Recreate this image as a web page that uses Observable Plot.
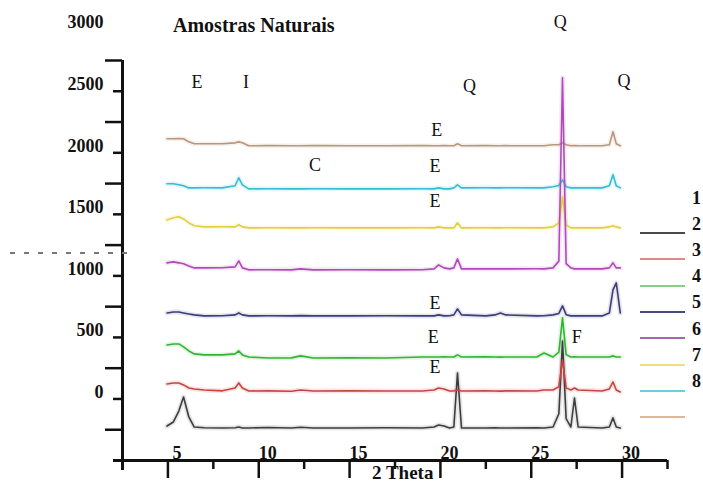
<!DOCTYPE html>
<html>
<head>
<meta charset="utf-8">
<script src="https://cdn.jsdelivr.net/npm/d3@7"></script>
<script src="https://cdn.jsdelivr.net/npm/@observablehq/plot@0.6"></script>
<style>
  html, body { margin: 0; padding: 0; background: #fff; }
  #wrap { position: relative; width: 703px; height: 483px; overflow: hidden; font-family: "Liberation Serif", "DejaVu Serif", serif; }
  #wrap svg { position: absolute; left: 0; top: 0; }
  .ov { position: absolute; white-space: nowrap; color: #111; }
</style>
</head>
<body>
<div id="wrap"></div>
<script>
// ---------- data ----------
const samples = ["1", "2", "3", "4", "5", "6", "7", "8"];
const twoTheta = [4.95, 5.3, 5.6, 5.86, 6.15, 6.45, 7.0, 8.0, 8.7, 8.9, 9.1, 9.45, 10.5, 11.8, 12.3, 13.0, 15.0, 17.0, 19.0, 19.65, 19.9, 20.2, 20.5, 20.74, 20.94, 21.16, 22.5, 23.0, 23.3, 23.6, 25.3, 25.7, 26.2, 26.52, 26.72, 26.92, 27.18, 27.38, 27.58, 28.9, 29.3, 29.5, 29.68, 29.9];
const sample1 = [-220, -187, -98, 16, -146, -228, -234, -236, -234, -228, -236, -236, -232, -236, -230, -236, -236, -234, -236, -228, -211, -220, -236, -228, 211, -236, -236, -234, -236, -236, -234, -236, -228, -120, 470, -160, -228, 8, -228, -236, -228, -154, -228, -236];
const sample2 = [122, 130, 130, 114, 89, 81, 73, 66, 89, 130, 89, 65, 66, 63, 73, 65, 66, 65, 65, 73, 89, 81, 65, 66, 73, 65, 66, 65, 64, 66, 65, 73, 73, 100, 317, 90, 73, 89, 73, 65, 81, 138, 73, 57];
const sample3 = [439, 447, 447, 423, 390, 366, 358, 358, 366, 390, 358, 341, 333, 334, 350, 333, 334, 333, 341, 341, 341, 342, 341, 341, 358, 341, 342, 341, 340, 341, 341, 374, 341, 380, 659, 360, 341, 342, 341, 341, 341, 350, 341, 341];
const sample4 = [699, 707, 707, 699, 691, 683, 675, 676, 683, 699, 683, 675, 676, 675, 677, 675, 675, 676, 675, 675, 683, 675, 676, 683, 732, 683, 675, 683, 699, 683, 675, 676, 683, 695, 756, 685, 675, 676, 675, 675, 699, 886, 943, 699];
const sample5 = [1106, 1114, 1106, 1098, 1081, 1065, 1065, 1066, 1073, 1122, 1065, 1049, 1050, 1049, 1057, 1049, 1050, 1049, 1050, 1057, 1089, 1065, 1057, 1065, 1138, 1057, 1057, 1058, 1057, 1057, 1058, 1057, 1065, 1120, 2610, 1100, 1065, 1057, 1058, 1057, 1065, 1106, 1065, 1065];
const sample6 = [1455, 1472, 1480, 1463, 1431, 1407, 1398, 1399, 1398, 1415, 1398, 1390, 1391, 1390, 1390, 1391, 1390, 1390, 1391, 1390, 1398, 1390, 1391, 1390, 1431, 1390, 1391, 1390, 1390, 1391, 1390, 1390, 1398, 1430, 1642, 1415, 1390, 1391, 1390, 1390, 1398, 1407, 1398, 1390];
const sample7 = [1748, 1748, 1740, 1732, 1715, 1715, 1716, 1715, 1732, 1797, 1740, 1707, 1708, 1707, 1707, 1708, 1707, 1707, 1708, 1707, 1715, 1707, 1707, 1715, 1740, 1715, 1716, 1715, 1715, 1716, 1715, 1715, 1724, 1735, 1780, 1725, 1715, 1716, 1715, 1715, 1732, 1821, 1732, 1715];
const sample8 = [2114, 2114, 2115, 2114, 2089, 2073, 2073, 2074, 2081, 2089, 2081, 2057, 2058, 2057, 2057, 2058, 2057, 2057, 2058, 2057, 2057, 2058, 2057, 2057, 2073, 2057, 2058, 2057, 2057, 2058, 2057, 2057, 2065, 2065, 2081, 2065, 2057, 2058, 2057, 2057, 2065, 2171, 2073, 2057];
const intensities = [sample1, sample2, sample3, sample4, sample5, sample6, sample7, sample8];

const yTickLabels = [0, 500, 1000, 1500, 2000, 2500, 3000];
const yMajorTicks = [-250, 250, 750, 1250, 1750, 2250, 2750];
const yMinorTicks = [0, 500, 1000, 1500, 2000, 2500];
const xTickLabels = [5, 10, 15, 20, 25, 30];
const xMinorTicks = [7.5, 12.5, 17.5, 22.5, 27.5, 32.5];

const annLabels = ["E", "I", "C", "Q", "Q", "Q", "E", "E", "E", "E", "E", "F", "E"];
const annTheta = [6.6, 9.3, 13.1, 26.6, 21.6, 30.1, 19.8, 19.7, 19.7, 19.7, 19.6, 27.5, 19.7];
const annLevel = [2577, 2577, 1902, 3057, 2537, 2585, 2187, 1894, 1610, 780, 504, 504, 260];

const title = "Amostras Naturais";
const xLabel = "2 Theta";

// ---------- styles ----------
const lineColors = ["#3d3d3d", "#c8433f", "#2fb52f", "#3c3c78", "#b04ab8", "#e2cf3a", "#35bdd0", "#b9977c"];
const legendColors = ["#4a4a4a", "#dc8c84", "#86cf86", "#4a4a7c", "#a865b0", "#eee07a", "#6ccfe0", "#deb896"];
const drawOrder = ["1", "2", "3", "4", "6", "7", "8", "5"];

const X0 = 2.5, X1 = 32.5, Y0 = -500, Y1 = 2750;

const rows = drawOrder.flatMap(s => {
  const i = samples.indexOf(s);
  return twoTheta.map((t, j) => ({sample: s, t, v: intensities[i][j]}));
});
const ann = annLabels.map((l, i) => ({l, t: annTheta[i], v: annLevel[i]}));

const svg = Plot.plot({
  width: 703,
  height: 483,
  marginLeft: 122,
  marginRight: 36,
  marginTop: 60,
  marginBottom: 23,
  x: {domain: [X0, X1], axis: null},
  y: {domain: [Y0, Y1], axis: null},
  color: {domain: samples, range: lineColors},
  style: {background: "transparent", fontFamily: "'Liberation Serif', 'DejaVu Serif', serif", color: "#111"},
  marks: [
    Plot.line(rows, {x: "t", y: "v", z: "sample", stroke: "sample", strokeWidth: 5, strokeOpacity: 0.13}),
    Plot.line(rows, {x: "t", y: "v", z: "sample", stroke: "sample", strokeWidth: 1.6}),
    // axis lines
    Plot.ruleX([X0], {insetBottom: -10, stroke: "#111", strokeWidth: 3}),
    Plot.ruleY([Y0], {insetLeft: -9, stroke: "#111", strokeWidth: 3}),
    // y ticks
    Plot.ruleY(yMajorTicks, {x1: X0, x2: X0, insetLeft: -17, stroke: "#111", strokeWidth: 2.5}),
    Plot.ruleY(yMinorTicks, {x1: X0, x2: X0, insetLeft: -9, stroke: "#111", strokeWidth: 2.5}),
    // x ticks
    Plot.ruleX(xTickLabels, {y1: Y0, y2: Y0, insetBottom: -18, stroke: "#111", strokeWidth: 2.5}),
    Plot.ruleX(xMinorTicks, {y1: Y0, y2: Y0, insetBottom: -9, stroke: "#111", strokeWidth: 2.5}),
    // tick labels
    Plot.text(yTickLabels, {x: X0, y: d => d, text: d => String(d), textAnchor: "end", dx: -19, dy: -7, fontSize: 18, fontWeight: "bold", fill: "#111"}),
    Plot.text(xTickLabels, {x: d => d, y: Y0, text: d => String(d), dx: 9, dy: -7, fontSize: 18, fontWeight: "bold", fill: "#111"}),
    // peak annotations
    Plot.text(ann, {x: "t", y: "v", text: "l", fontSize: 18, fill: "#111"})
  ]
});

const wrap = document.getElementById("wrap");
wrap.appendChild(svg);

function addDiv(text, css) {
  const d = document.createElement("div");
  d.className = "ov";
  d.textContent = text;
  Object.assign(d.style, css);
  wrap.appendChild(d);
  return d;
}
addDiv(title, {left: "173px", top: "12px", fontSize: "20px", fontWeight: "bold", lineHeight: "26px"});
addDiv(xLabel, {left: "372px", top: "464px", fontSize: "19px", fontWeight: "bold", lineHeight: "18px"});

// dashed scan mark on the left
const dash = document.createElement("div");
Object.assign(dash.style, {position: "absolute", left: "10px", top: "252px", width: "117px", height: "2px",
  background: "repeating-linear-gradient(to right, #777 0 5px, transparent 5px 14px)"});
wrap.appendChild(dash);

// legend
samples.forEach((s, i) => {
  addDiv(s, {left: "692px", top: (187 + i * 26.1) + "px", fontSize: "18px", fontWeight: "bold", lineHeight: "22px"});
  const ln = document.createElement("div");
  Object.assign(ln.style, {position: "absolute", left: "640px", top: (232 + i * 26.3) + "px", width: "45px", height: "2px", background: legendColors[i]});
  wrap.appendChild(ln);
});
</script>
</body>
</html>
